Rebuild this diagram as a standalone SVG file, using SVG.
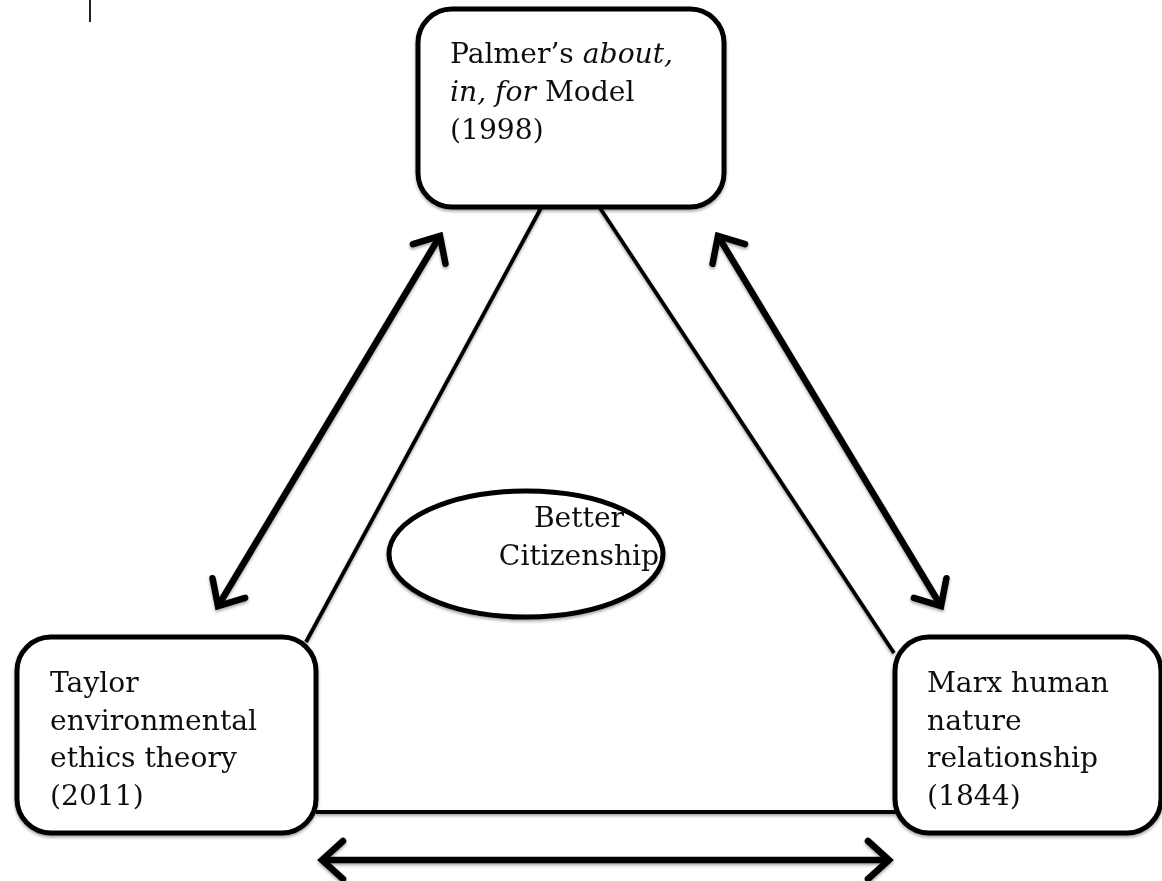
<svg xmlns="http://www.w3.org/2000/svg" width="1162" height="881" viewBox="0 0 1162 881">
  <defs>
    <filter id="shadow" x="-10%" y="-10%" width="120%" height="130%">
      <feDropShadow dx="0" dy="2" stdDeviation="1.5" flood-color="#000" flood-opacity="0.35"/>
    </filter>
    <marker id="head" markerUnits="userSpaceOnUse" markerWidth="40" markerHeight="50" viewBox="-30 -25 40 50" refX="0" refY="0" orient="auto-start-reverse">
      <path d="M-21,-19 L0,0 L-21,19" fill="none" stroke="#000" stroke-width="6.5" stroke-linecap="round" stroke-linejoin="miter"/>
    </marker>
  </defs>
  <style>
    .box { fill: #fff; stroke: #000; stroke-width: 5; }
    .label { font-family: "DejaVu Serif", "Liberation Serif", serif; font-size: 28.2px; fill: #111; }
    .it { font-style: italic; }
    .link { stroke: #000; stroke-width: 3.8; fill: none; }
    .arrow { stroke: #000; stroke-width: 6.5; fill: none; marker-start: url(#head); marker-end: url(#head); }
  </style>
  <rect width="1162" height="881" fill="#fff"/>

  <!-- text cursor mark -->
  <line x1="90" y1="0" x2="90" y2="22" stroke="#222" stroke-width="2"/>

  <g id="connectors" filter="url(#shadow)">
    <line class="link" x1="541" y1="208" x2="306" y2="642"/>
    <line class="link" x1="600" y1="208" x2="894" y2="653"/>
    <line class="link" x1="316" y1="812" x2="896" y2="812"/>
    <line class="arrow" x1="218" y1="606" x2="440" y2="236"/>
    <line class="arrow" x1="718" y1="236" x2="941" y2="606"/>
    <line class="arrow" x1="322" y1="860" x2="889" y2="860"/>
  </g>

  <g id="palmer" filter="url(#shadow)">
    <rect class="box" x="418" y="9" width="306" height="198" rx="34"/>
    <text class="label" x="450" y="63">Palmer’s <tspan class="it">about,</tspan></text>
    <text class="label" x="450" y="101"><tspan class="it">in, for</tspan> Model</text>
    <text class="label" x="450" y="139">(1998)</text>
  </g>

  <g id="taylor" filter="url(#shadow)">
    <rect class="box" x="17" y="637" width="299" height="196" rx="34"/>
    <text class="label" x="50" y="692">Taylor</text>
    <text class="label" x="50" y="730">environmental</text>
    <text class="label" x="50" y="767">ethics theory</text>
    <text class="label" x="50" y="805">(2011)</text>
  </g>

  <g id="marx" filter="url(#shadow)">
    <rect class="box" x="895" y="637" width="266" height="196" rx="34"/>
    <text class="label" x="927" y="692">Marx human</text>
    <text class="label" x="927" y="730">nature</text>
    <text class="label" x="927" y="767">relationship</text>
    <text class="label" x="927" y="805">(1844)</text>
  </g>

  <g id="citizenship" filter="url(#shadow)">
    <ellipse class="box" cx="526" cy="554" rx="137" ry="63"/>
    <text class="label" x="579" y="527" text-anchor="middle">Better</text>
    <text class="label" x="579" y="565" text-anchor="middle">Citizenship</text>
  </g>
</svg>
